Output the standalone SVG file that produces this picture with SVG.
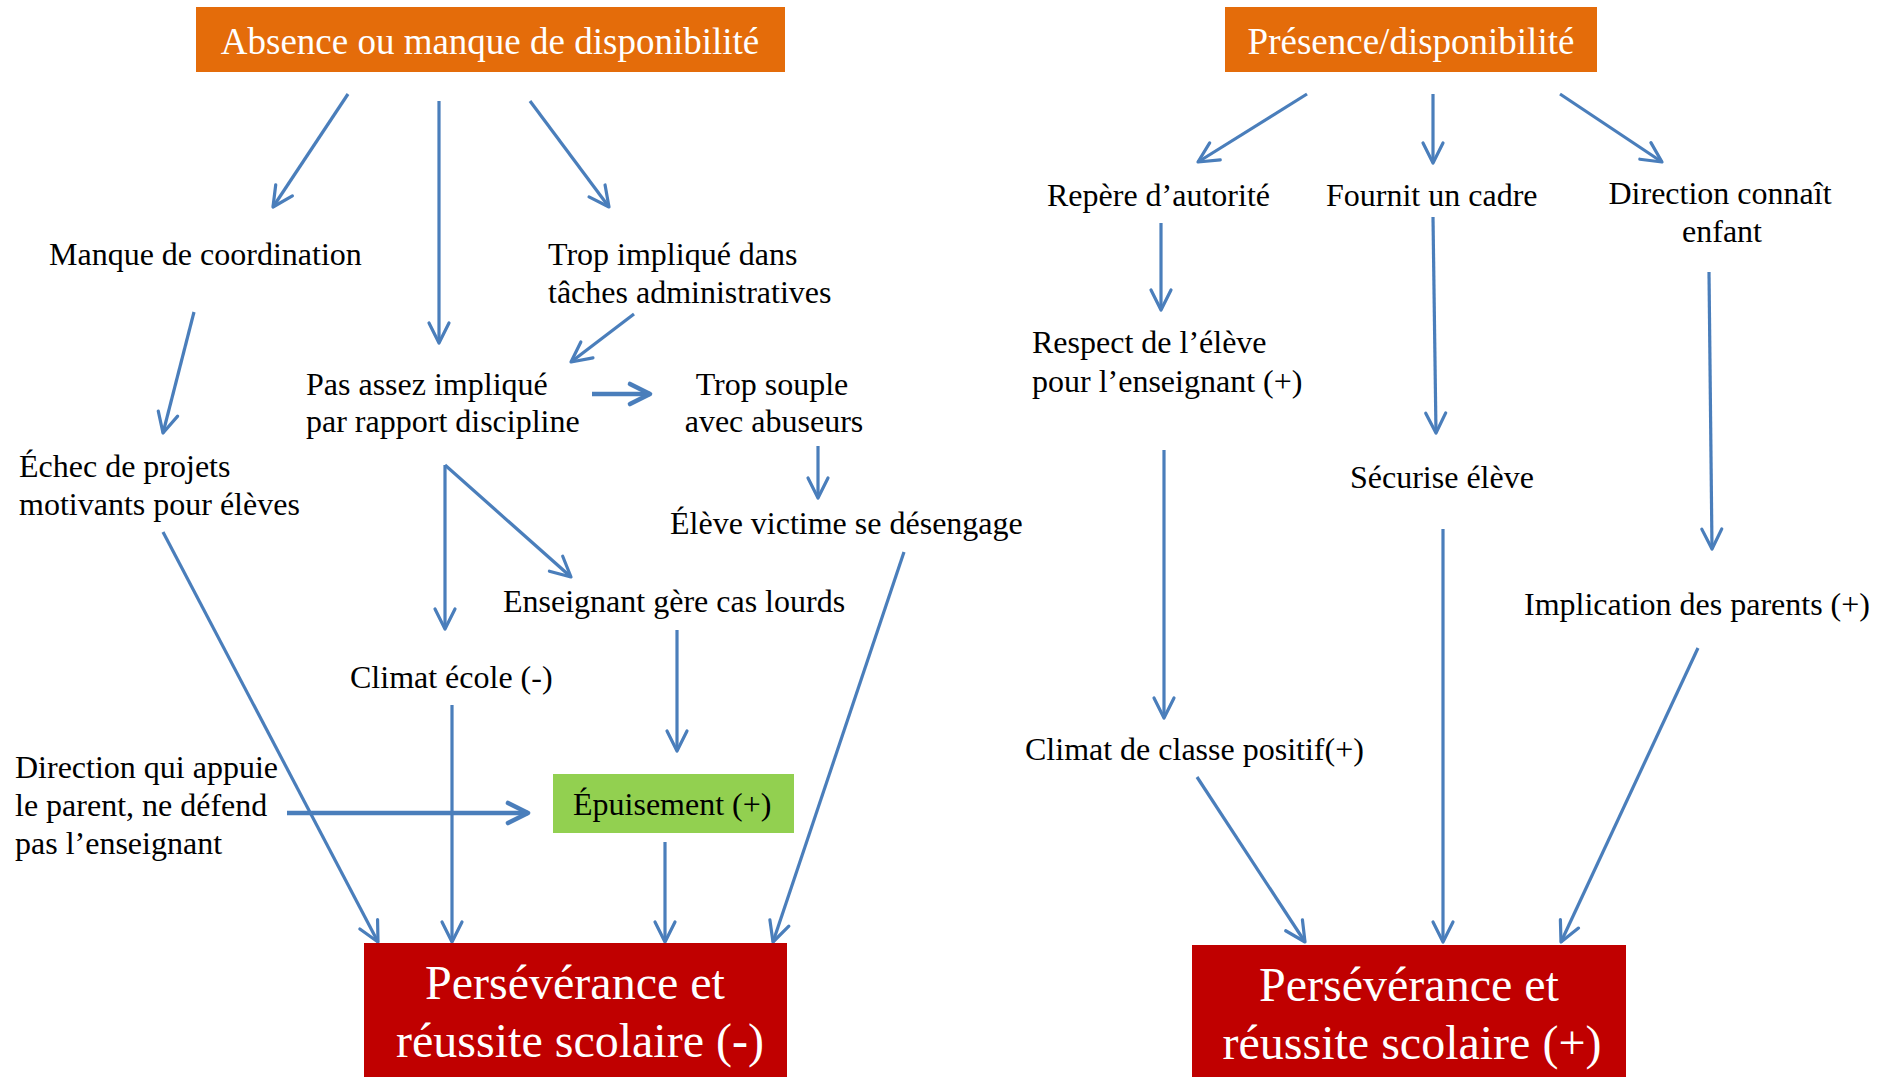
<svg xmlns="http://www.w3.org/2000/svg" width="1890" height="1077" viewBox="0 0 1890 1077">
<style>
text{font-family:"Liberation Serif","Times New Roman",serif;fill:#000}
.lbl{font-size:32px}
.ttl{font-size:37px;fill:#fff;text-anchor:middle}
.big{font-size:48px;fill:#fff;text-anchor:middle}
.mid{text-anchor:middle}
.c{stroke:#4A7EBB;stroke-width:3.2;fill:none;marker-end:url(#ah)}
.ct{stroke:#4A7EBB;stroke-width:4.6;fill:none;marker-end:url(#aht)}
</style>
<defs>
<marker id="ah" viewBox="-24 -14 28 28" markerWidth="28" markerHeight="28" refX="0" refY="0" orient="auto" markerUnits="userSpaceOnUse">
<path d="M-20,-10 L0,0 L-20,10" stroke="#4A7EBB" stroke-width="3.2" fill="none" stroke-linejoin="round" stroke-linecap="round"/>
</marker>
<marker id="aht" viewBox="-24 -14 28 28" markerWidth="28" markerHeight="28" refX="0" refY="0" orient="auto" markerUnits="userSpaceOnUse">
<path d="M-20,-10 L0,0 L-20,10" stroke="#4A7EBB" stroke-width="4.6" fill="none" stroke-linejoin="round" stroke-linecap="round"/>
</marker>
</defs>
<rect width="1890" height="1077" fill="#fff"/>

<g id="connectors">
<line class="c" x1="348" y1="94" x2="273" y2="207"/>
<line class="c" x1="439" y1="101" x2="439" y2="343"/>
<line class="c" x1="530" y1="101" x2="609" y2="207"/>
<line class="c" x1="634" y1="314" x2="571" y2="362"/>
<line class="ct" x1="592" y1="394" x2="650" y2="394"/>
<line class="c" x1="818" y1="446" x2="818" y2="498"/>
<line class="c" x1="194" y1="312" x2="163" y2="433"/>
<line class="c" x1="445" y1="465" x2="445" y2="629"/>
<line class="c" x1="445" y1="465" x2="571" y2="577"/>
<line class="c" x1="163" y1="532" x2="378" y2="942"/>
<line class="c" x1="452" y1="705" x2="452" y2="942"/>
<line class="c" x1="677" y1="630" x2="677" y2="751"/>
<line class="ct" x1="287" y1="813" x2="528" y2="813"/>
<line class="c" x1="665" y1="842" x2="665" y2="942"/>
<line class="c" x1="904" y1="552" x2="773" y2="942"/>
<line class="c" x1="1307" y1="94" x2="1198" y2="162"/>
<line class="c" x1="1433" y1="94" x2="1433" y2="163"/>
<line class="c" x1="1560" y1="94" x2="1662" y2="162"/>
<line class="c" x1="1161" y1="223" x2="1161" y2="310"/>
<line class="c" x1="1433" y1="217" x2="1436" y2="433"/>
<line class="c" x1="1709" y1="272" x2="1712" y2="549"/>
<line class="c" x1="1164" y1="450" x2="1164" y2="718"/>
<line class="c" x1="1443" y1="529" x2="1443" y2="942"/>
<line class="c" x1="1197" y1="777" x2="1305" y2="942"/>
<line class="c" x1="1698" y1="648" x2="1561" y2="942"/>
</g>

<g id="absence">
<rect x="196" y="7" width="589" height="65" fill="#E46C0A"/>
<text class="ttl" x="490" y="54">Absence ou manque de disponibilité</text>
</g>
<g id="presence">
<rect x="1225" y="7" width="372" height="65" fill="#E46C0A"/>
<text class="ttl" x="1411" y="54">Présence/disponibilité</text>
</g>

<g id="manque-coordination"><text class="lbl" x="49" y="265">Manque de coordination</text></g>
<g id="trop-implique"><text class="lbl" x="548" y="265">Trop impliqué dans</text><text class="lbl" x="548" y="303">tâches administratives</text></g>
<g id="pas-assez"><text class="lbl" x="306" y="395">Pas assez impliqué</text><text class="lbl" x="306" y="432">par rapport discipline</text></g>
<g id="trop-souple"><text class="lbl mid" x="772" y="395">Trop souple</text><text class="lbl mid" x="774" y="432">avec abuseurs</text></g>
<g id="echec"><text class="lbl" x="19" y="477">Échec de projets</text><text class="lbl" x="19" y="515">motivants pour élèves</text></g>
<g id="eleve-victime"><text class="lbl" x="670" y="534">Élève victime se désengage</text></g>
<g id="enseignant"><text class="lbl" x="503" y="612">Enseignant gère cas lourds</text></g>
<g id="climat-ecole"><text class="lbl" x="350" y="688">Climat école (-)</text></g>
<g id="direction-appuie"><text class="lbl" x="15" y="778">Direction qui appuie</text><text class="lbl" x="15" y="816">le parent, ne défend</text><text class="lbl" x="15" y="854">pas l’enseignant</text></g>
<g id="epuisement">
<rect x="553" y="774" width="241" height="59" fill="#92D050"/>
<text class="lbl" x="573" y="815">Épuisement (+)</text>
</g>
<g id="perseverance-moins">
<rect x="364" y="943" width="423" height="140" fill="#C00000"/>
<text class="big" x="575" y="999">Persévérance et</text>
<text class="big" x="580" y="1057">réussite scolaire (-)</text>
</g>

<g id="repere"><text class="lbl" x="1047" y="206">Repère d’autorité</text></g>
<g id="fournit"><text class="lbl" x="1326" y="206">Fournit un cadre</text></g>
<g id="direction-connait"><text class="lbl mid" x="1720" y="204">Direction connaît</text><text class="lbl mid" x="1722" y="242">enfant</text></g>
<g id="respect"><text class="lbl" x="1032" y="353">Respect de l’élève</text><text class="lbl" x="1032" y="392">pour l’enseignant (+)</text></g>
<g id="securise"><text class="lbl" x="1350" y="488">Sécurise élève</text></g>
<g id="implication"><text class="lbl" x="1524" y="615">Implication des parents (+)</text></g>
<g id="climat-classe"><text class="lbl" x="1025" y="760">Climat de classe positif(+)</text></g>
<g id="perseverance-plus">
<rect x="1192" y="945" width="434" height="140" fill="#C00000"/>
<text class="big" x="1409" y="1001">Persévérance et</text>
<text class="big" x="1412" y="1059">réussite scolaire (+)</text>
</g>
</svg>
